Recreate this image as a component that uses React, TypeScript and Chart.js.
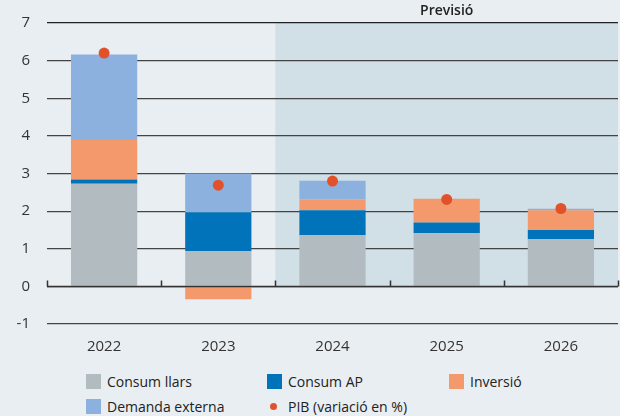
import React, { useEffect, useRef } from "react";
import { Chart, registerables } from "chart.js";

Chart.register(...registerables);

const categories = ["2022", "2023", "2024", "2025", "2026"];
const consumLlars = [2.73, 0.94, 1.36, 1.41, 1.25];
const consumAP = [0.11, 1.03, 0.66, 0.29, 0.25];
const inversio = [1.05, -0.34, 0.29, 0.63, 0.52];
const demandaExterna = [2.27, 1.03, 0.5, 0, 0.04];
const pib = [6.2, 2.69, 2.8, 2.31, 2.07];
const yMin = -1;
const yMax = 7;
const forecastStartIndex = 2;
const forecastLabel = "Previsió";

const COLORS = {
  bg: "#E9EEF2",
  shade: "#D1DFE6",
  llars: "#B2BCC0",
  ap: "#0073BA",
  inv: "#F3996B",
  ext: "#8DB1DE",
  pib: "#E1522A",
  grid: "#444444",
  text: "#333333",
};

const FONT = "'Open Sans', 'Noto Sans', sans-serif";

const legendItems = [
  { label: "Consum llars", color: COLORS.llars, kind: "box", left: 86, top: 374 },
  { label: "Consum AP", color: COLORS.ap, kind: "box", left: 267, top: 374 },
  { label: "Inversió", color: COLORS.inv, kind: "box", left: 449, top: 374 },
  { label: "Demanda externa", color: COLORS.ext, kind: "box", left: 86, top: 399 },
  { label: "PIB (variació en %)", color: COLORS.pib, kind: "dot", left: 267, top: 399 },
];

const forecastPlugin = {
  id: "forecastShade",
  beforeDraw(chart: any) {
    const { ctx, chartArea, scales } = chart;
    const x = scales.x;
    const y = scales.y;
    const left = (x.getPixelForTick(forecastStartIndex - 1) + x.getPixelForTick(forecastStartIndex)) / 2;
    const top = chartArea.top;
    const bottom = y.getPixelForValue(0);
    ctx.save();
    ctx.fillStyle = COLORS.shade;
    ctx.fillRect(left, top, chartArea.right - left, bottom - top);
    ctx.fillStyle = "#222";
    ctx.font = `600 14px ${FONT}`;
    ctx.textAlign = "center";
    ctx.textBaseline = "middle";
    ctx.fillText(forecastLabel, (left + chartArea.right) / 2, 11);
    ctx.restore();
  },
};

const zeroAxisPlugin = {
  id: "zeroAxis",
  afterDatasetsDraw(chart: any) {
    const { ctx, chartArea, scales } = chart;
    const x = scales.x;
    const y0 = Math.round(scales.y.getPixelForValue(0)) + 0.5;
    ctx.save();
    ctx.strokeStyle = "#333";
    ctx.lineWidth = 1.5;
    ctx.beginPath();
    ctx.moveTo(chartArea.left, y0);
    ctx.lineTo(chartArea.right, y0);
    const n = categories.length;
    for (let i = 0; i <= n; i++) {
      let px;
      if (i === 0) px = chartArea.left;
      else if (i === n) px = chartArea.right;
      else px = (x.getPixelForTick(i - 1) + x.getPixelForTick(i)) / 2;
      px = Math.round(px) + 0.5;
      ctx.moveTo(px, y0);
      ctx.lineTo(px, y0 - 6);
    }
    ctx.stroke();
    ctx.restore();
  },
};

export default function App() {
  const canvasRef = useRef<HTMLCanvasElement | null>(null);

  useEffect(() => {
    document.body.style.margin = "0";
    const canvas = canvasRef.current;
    if (!canvas) return;
    const chart = new Chart(canvas, {
      type: "bar",
      data: {
        labels: categories,
        datasets: [
          {
            type: "line",
            label: "PIB (variació en %)",
            data: pib,
            showLine: false,
            pointRadius: 5.5,
            pointBackgroundColor: COLORS.pib,
            pointBorderWidth: 0,
            borderColor: COLORS.pib,
            stack: "pib",
            order: 0,
            clip: false,
          } as any,
          {
            label: "Consum llars",
            data: consumLlars,
            backgroundColor: COLORS.llars,
            stack: "a",
            order: 1,
          },
          {
            label: "Consum AP",
            data: consumAP,
            backgroundColor: COLORS.ap,
            stack: "a",
            order: 1,
          },
          {
            label: "Inversió",
            data: inversio,
            backgroundColor: COLORS.inv,
            stack: "a",
            order: 1,
          },
          {
            label: "Demanda externa",
            data: demandaExterna,
            backgroundColor: COLORS.ext,
            stack: "a",
            order: 1,
          },
        ],
      },
      options: {
        responsive: false,
        maintainAspectRatio: false,
        animation: false,
        devicePixelRatio: 1,
        layout: { autoPadding: false, padding: { top: 23, right: 2, left: 0, bottom: 0 } },
        datasets: {
          bar: { barPercentage: 0.58, categoryPercentage: 1, borderWidth: 0 },
        },
        plugins: {
          legend: { display: false },
          tooltip: { enabled: false },
        },
        scales: {
          x: {
            stacked: true,
            offset: true,
            grid: { display: false, drawTicks: false },
            border: { display: false },
            ticks: {
              color: COLORS.text,
              font: { family: FONT, size: 15 },
              padding: 14,
            },
            afterFit: (s: any) => {
              s.height = 38;
              s.paddingLeft = 0;
              s.paddingRight = 0;
            },
          },
          y: {
            stacked: true,
            min: yMin,
            max: yMax,
            grid: {
              drawTicks: false,
              color: (c: any) => (c.tick && c.tick.value === yMax ? "#222" : COLORS.grid),
              lineWidth: 1.2,
            },
            border: { display: false },
            ticks: {
              stepSize: 1,
              color: COLORS.text,
              font: { family: FONT, size: 15 },
              padding: 17,
            },
            afterFit: (s: any) => {
              s.width = 47;
              s.paddingTop = 0;
              s.paddingBottom = 0;
            },
          },
        },
      },
      plugins: [forecastPlugin, zeroAxisPlugin],
    });
    return () => chart.destroy();
  }, []);

  return (
    <div
      style={{
        position: "relative",
        width: 620,
        height: 416,
        background: COLORS.bg,
        fontFamily: FONT,
        overflow: "hidden",
      }}
    >
      <canvas ref={canvasRef} width={620} height={362} style={{ display: "block" }} />
      {legendItems.map((it) => (
        <div
          key={it.label}
          style={{
            position: "absolute",
            left: it.left,
            top: it.top,
            height: 15,
            display: "flex",
            alignItems: "center",
            fontSize: 14,
            color: "#222",
            whiteSpace: "nowrap",
          }}
        >
          {it.kind === "box" ? (
            <span style={{ display: "inline-block", width: 15, height: 15, background: it.color }} />
          ) : (
            <span style={{ display: "inline-block", width: 15, height: 15, position: "relative" }}>
              <span
                style={{
                  position: "absolute",
                  left: 3,
                  top: 4,
                  width: 7,
                  height: 7,
                  borderRadius: "50%",
                  background: it.color,
                }}
              />
            </span>
          )}
          <span style={{ marginLeft: 6 }}>{it.label}</span>
        </div>
      ))}
    </div>
  );
}
